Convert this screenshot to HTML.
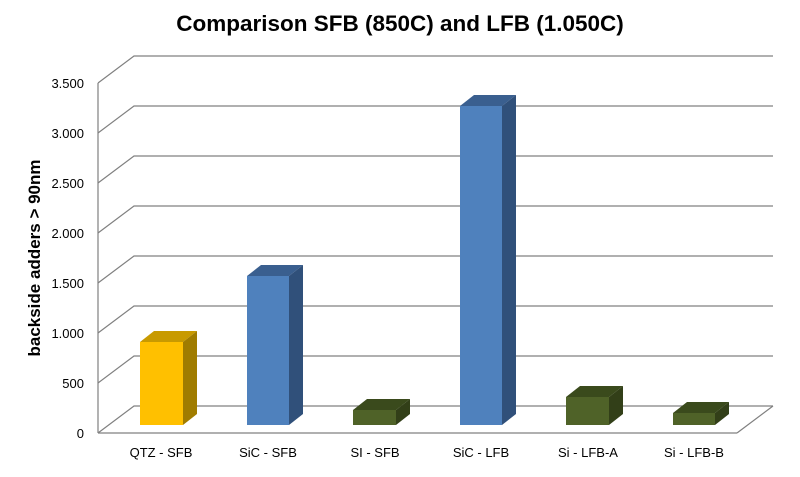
<!DOCTYPE html>
<html><head><style>body{margin:0;background:#fff}</style></head><body>
<svg width="800" height="472" xmlns="http://www.w3.org/2000/svg" font-family="Liberation Sans, sans-serif">
<rect width="800" height="472" fill="#fff"/>
<text x="400" y="31" font-size="22.5" font-weight="bold" text-anchor="middle">Comparison SFB (850C) and LFB (1.050C)</text>
<g stroke="#808080" stroke-width="1.2" fill="none">
<line x1="98" y1="83" x2="98" y2="433"/>
<line x1="98" y1="433" x2="737" y2="433"/>
<line x1="737" y1="433" x2="773" y2="406"/>
<path d="M98 433 L134 406 H773"/>
<path d="M98 383 L134 356 H773"/>
<path d="M98 333 L134 306 H773"/>
<path d="M98 283 L134 256 H773"/>
<path d="M98 233 L134 206 H773"/>
<path d="M98 183 L134 156 H773"/>
<path d="M98 133 L134 106 H773"/>
<path d="M98 83 L134 56 H773"/>
</g>
<g font-size="13" text-anchor="end">
<text x="84" y="438">0</text><text x="84" y="388">500</text><text x="84" y="338">1.000</text><text x="84" y="288">1.500</text><text x="84" y="238">2.000</text><text x="84" y="188">2.500</text><text x="84" y="138">3.000</text><text x="84" y="88">3.500</text>
</g>
<text transform="translate(40,258) rotate(-90)" font-size="17" font-weight="bold" text-anchor="middle">backside adders &gt; 90nm</text>
<g>
<polygon points="140,342 154,331 197,331 183,342" fill="#c89a00"/><polygon points="183,342 197,331 197,414 183,425" fill="#a07c00"/><rect x="140" y="342" width="43" height="83" fill="#ffc000"/>
<polygon points="247,276 261,265 303,265 289,276" fill="#3a5f8f"/><polygon points="289,276 303,265 303,414 289,425" fill="#30507a"/><rect x="247" y="276" width="42" height="149" fill="#4f81bd"/>
<polygon points="353,410 367,399 410,399 396,410" fill="#3a4a1c"/><polygon points="396,410 410,399 410,414 396,425" fill="#323f18"/><rect x="353" y="410" width="43" height="15" fill="#4f6228"/>
<polygon points="460,106 474,95 516,95 502,106" fill="#3a5f8f"/><polygon points="502,106 516,95 516,414 502,425" fill="#30507a"/><rect x="460" y="106" width="42" height="319" fill="#4f81bd"/>
<polygon points="566,397 580,386 623,386 609,397" fill="#3a4a1c"/><polygon points="609,397 623,386 623,414 609,425" fill="#323f18"/><rect x="566" y="397" width="43" height="28" fill="#4f6228"/>
<polygon points="673,413 687,402 729,402 715,413" fill="#3a4a1c"/><polygon points="715,413 729,402 729,414 715,425" fill="#323f18"/><rect x="673" y="413" width="42" height="12" fill="#4f6228"/>
</g>
<g font-size="13" text-anchor="middle">
<text x="161" y="457">QTZ - SFB</text><text x="268" y="457">SiC - SFB</text><text x="375" y="457">SI - SFB</text><text x="481" y="457">SiC - LFB</text><text x="588" y="457">Si - LFB-A</text><text x="694" y="457">Si - LFB-B</text>
</g>
</svg>
</body></html>
